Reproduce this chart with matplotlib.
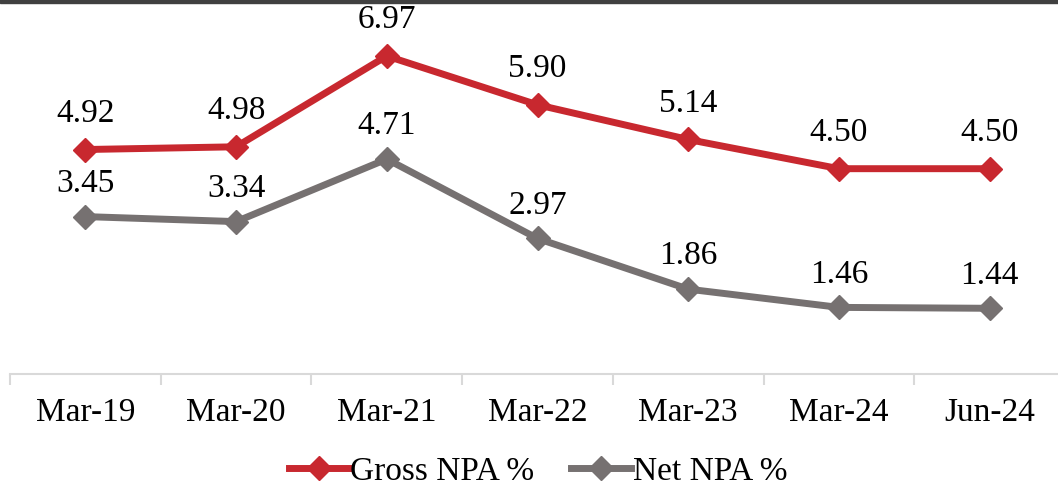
import matplotlib.pyplot as plt
import matplotlib.lines as mlines

plt.rcParams['font.family'] = ['Liberation Serif', 'DejaVu Serif']

periods = ['Mar-19', 'Mar-20', 'Mar-21', 'Mar-22', 'Mar-23', 'Mar-24', 'Jun-24']
gross_npa = [4.92, 4.98, 6.97, 5.90, 5.14, 4.50, 4.50]
net_npa = [3.45, 3.34, 4.71, 2.97, 1.86, 1.46, 1.44]

red = '#C8282F'
grey = '#767171'

fig = plt.figure(figsize=(10.58, 4.89), dpi=100)
ax = fig.add_axes([10 / 1058, 114 / 489, 1055 / 1058, 365 / 489])

x = list(range(len(periods)))
ax.plot(x, gross_npa, color=red, lw=5, marker='D', markersize=12, label='Gross NPA %')
ax.plot(x, net_npa, color=grey, lw=5, marker='D', markersize=12, label='Net NPA %')

for xi, v in zip(x, gross_npa):
    ax.annotate(f'{v:.2f}', (xi, v), xytext=(0, 26.5), textcoords='offset points',
                ha='center', va='center', fontsize=24)
for xi, v in zip(x, net_npa):
    ax.annotate(f'{v:.2f}', (xi, v), xytext=(0, 24.5), textcoords='offset points',
                ha='center', va='center', fontsize=24)

ax.set_xlim(-0.5, len(periods) - 0.5)
ax.set_ylim(0, 8)
ax.set_yticks([])
for s in ['top', 'right', 'left']:
    ax.spines[s].set_visible(False)
ax.spines['bottom'].set_color('#D9D9D9')
ax.spines['bottom'].set_linewidth(1.5)

ax.set_xticks(x)
ax.set_xticklabels(periods, fontsize=24)
ax.tick_params(axis='x', length=0, pad=16)
ax.set_xticks([i - 0.5 for i in range(len(periods) + 1)], minor=True)
ax.tick_params(axis='x', which='minor', length=8, width=1.5, color='#D9D9D9')

h1 = mlines.Line2D([], [], color=red, lw=5, marker='D', markersize=12)
h2 = mlines.Line2D([], [], color=grey, lw=5, marker='D', markersize=12)
fig.legend([h1, h2], ['Gross NPA %', 'Net NPA %'], loc='center', bbox_to_anchor=(538 / 1058, 1 - 472 / 489),
           ncol=2, frameon=False, fontsize=24, handlelength=1.8, handletextpad=0.05, columnspacing=1.1,
           borderpad=0)

# dark band along the top edge
fig.patches.append(plt.Rectangle((0, 1 - 4 / 489), 1, 4 / 489, transform=fig.transFigure,
                                 color='#404040', zorder=10))

fig.savefig('out.png', dpi=100)
